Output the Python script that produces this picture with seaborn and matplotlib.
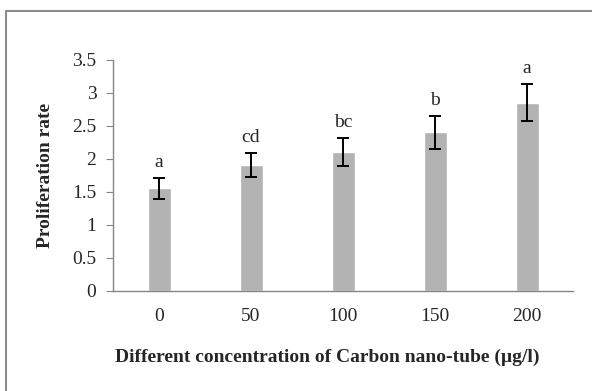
import matplotlib
matplotlib.use("Agg")
import matplotlib.pyplot as plt
import seaborn as sns
import pandas as pd
from matplotlib.lines import Line2D

concentrations = ["0", "50", "100", "150", "200"]
rates = [1.55, 1.90, 2.10, 2.40, 2.85]
errors = [0.16, 0.18, 0.21, 0.25, 0.28]
letters = ["a", "cd", "bc", "b", "a"]

df = pd.DataFrame({"conc": concentrations, "rate": rates})

sns.set_style("white")
plt.rcParams["font.family"] = ["Liberation Serif", "DejaVu Serif"]

fig = plt.figure(figsize=(5.92, 3.91), dpi=100)
ax = fig.add_axes([113/592, 1-290.7/391, 460/592, 231/391])

sns.barplot(data=df, x="conc", y="rate", order=concentrations, color="#b3b3b3",
            saturation=1, width=0.25, errorbar=None, ax=ax)
xs = list(range(len(concentrations)))
ax.errorbar(xs, rates, yerr=errors, fmt="none", ecolor="black", elinewidth=1.4,
            capsize=4.5, capthick=1.4)
for x, r, e, t in zip(xs, rates, errors, letters):
    ax.annotate(t, (x, r + e), xytext=(0, 5), textcoords="offset points",
                ha="center", va="bottom", fontsize=14)

ax.set_ylim(0, 3.5)
ax.set_xlim(-0.5, 4.5)
ax.set_yticks([0, 0.5, 1, 1.5, 2, 2.5, 3, 3.5])
ax.set_yticklabels(["0", "0.5", "1", "1.5", "2", "2.5", "3", "3.5"])
for s in ["top", "right"]:
    ax.spines[s].set_visible(False)
for s in ["left", "bottom"]:
    ax.spines[s].set_color("#868686")
    ax.spines[s].set_linewidth(1)
ax.tick_params(axis="y", left=True, length=5, color="#868686", labelsize=14, pad=7)
ax.tick_params(axis="x", bottom=False, labelsize=14, pad=9)
ax.set_ylabel("Proliferation rate", fontsize=14, fontweight="bold", labelpad=13)
ax.set_xlabel("Different concentration of Carbon nano-tube (µg/l)", fontsize=14,
              fontweight="bold")
ax.xaxis.label.set_va("center")
ax.xaxis.set_label_coords(0.465, (290.7 - 357) / 231)

fig.add_artist(Line2D([5.5/592, 5.5/592], [0, 1-10.5/391], transform=fig.transFigure,
                      color="#8c8c8c", linewidth=1.5))
fig.add_artist(Line2D([5.5/592, 1], [1-10.5/391, 1-10.5/391], transform=fig.transFigure,
                      color="#8c8c8c", linewidth=1.5))

fig.savefig("out.png", dpi=100)
